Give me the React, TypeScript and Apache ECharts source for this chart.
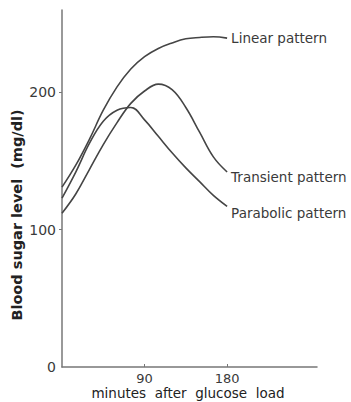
import React, { useEffect, useRef } from "react";
import * as echarts from "echarts";

const minutes = [0, 15, 30, 45, 60, 75, 90, 105, 120, 135, 150, 165, 180];
const linearValues = [131, 147, 166, 187, 204, 217, 226, 232, 236, 239, 240, 240.5, 239.5];
const transientValues = [112, 126, 144, 162, 178, 192, 201, 206, 202, 189, 171, 153, 142];
const parabolicValues = [123, 142, 163, 179, 187, 189, 180, 168, 156, 145, 135, 125, 117];
const xTickValues = [90, 180];
const yTickValues = [0, 100, 200];
const seriesNames = ["Linear pattern", "Transient pattern", "Parabolic pattern"];

const FONT = "DejaVu Sans";
const INK = "#3a3a3a";

export default function App() {
  const ref = useRef<HTMLDivElement>(null);
  useEffect(() => {
    if (!ref.current) return;
    const chart = echarts.init(ref.current, null, { renderer: "svg" });
    const mk = (vals: number[], name: string, offset: number[]) => ({
      type: "line",
      name,
      data: minutes.map((m, i) => [m, vals[i]]),
      smooth: 0.4,
      showSymbol: false,
      symbol: "none",
      lineStyle: { color: "#454545", width: 1.6 },
      endLabel: {
        show: true,
        formatter: name,
        distance: 4,
        offset,
        color: INK,
        fontFamily: FONT,
        fontSize: 13.5,
      },
      z: 3,
    });
    chart.setOption({
      animation: false,
      backgroundColor: "#ffffff",
      grid: {
        left: 62,
        right: 34,
        top: 10,
        bottom: 35,
        containLabel: false,
        outerBoundsMode: "none",
      },
      xAxis: {
        type: "value",
        min: 0,
        max: 278,
        axisLine: { show: true, lineStyle: { color: "#777", width: 1.5 } },
        axisTick: { show: true, inside: true, length: 3, customValues: xTickValues, lineStyle: { color: "#777" } },
        axisLabel: { show: true, customValues: xTickValues, color: INK, fontFamily: FONT, fontSize: 13, margin: 5 },
        splitLine: { show: false },
      },
      yAxis: {
        type: "value",
        min: 0,
        max: 260,
        axisLine: { show: true, lineStyle: { color: "#777", width: 1.5 } },
        axisTick: { show: true, inside: false, length: 3, customValues: [100, 200], lineStyle: { color: "#777" } },
        axisLabel: { show: true, customValues: yTickValues, color: INK, fontFamily: FONT, fontSize: 14, margin: 6 },
        splitLine: { show: false },
      },
      graphic: [
        {
          type: "text",
          x: 17,
          y: 215,
          rotation: Math.PI / 2,
          style: {
            text: "Blood sugar level  (mg/dl)",
            fill: "#222",
            font: `bold 14.5px "${FONT}"`,
            textAlign: "center",
            textVerticalAlign: "middle",
          },
        },
        {
          type: "text",
          x: 188,
          y: 393,
          style: {
            text: "minutes  after  glucose  load",
            fill: "#222",
            font: `13.5px "${FONT}"`,
            textAlign: "center",
            textVerticalAlign: "middle",
          },
        },
      ],
      series: [
        mk(linearValues, seriesNames[0], [0, 0]),
        mk(transientValues, seriesNames[1], [0, 5]),
        mk(parabolicValues, seriesNames[2], [0, 7]),
      ],
    });
    return () => chart.dispose();
  }, []);
  return (
    <div
      ref={ref}
      style={{ position: "fixed", left: 0, top: 0, width: 351, height: 402, background: "#fff" }}
    />
  );
}
